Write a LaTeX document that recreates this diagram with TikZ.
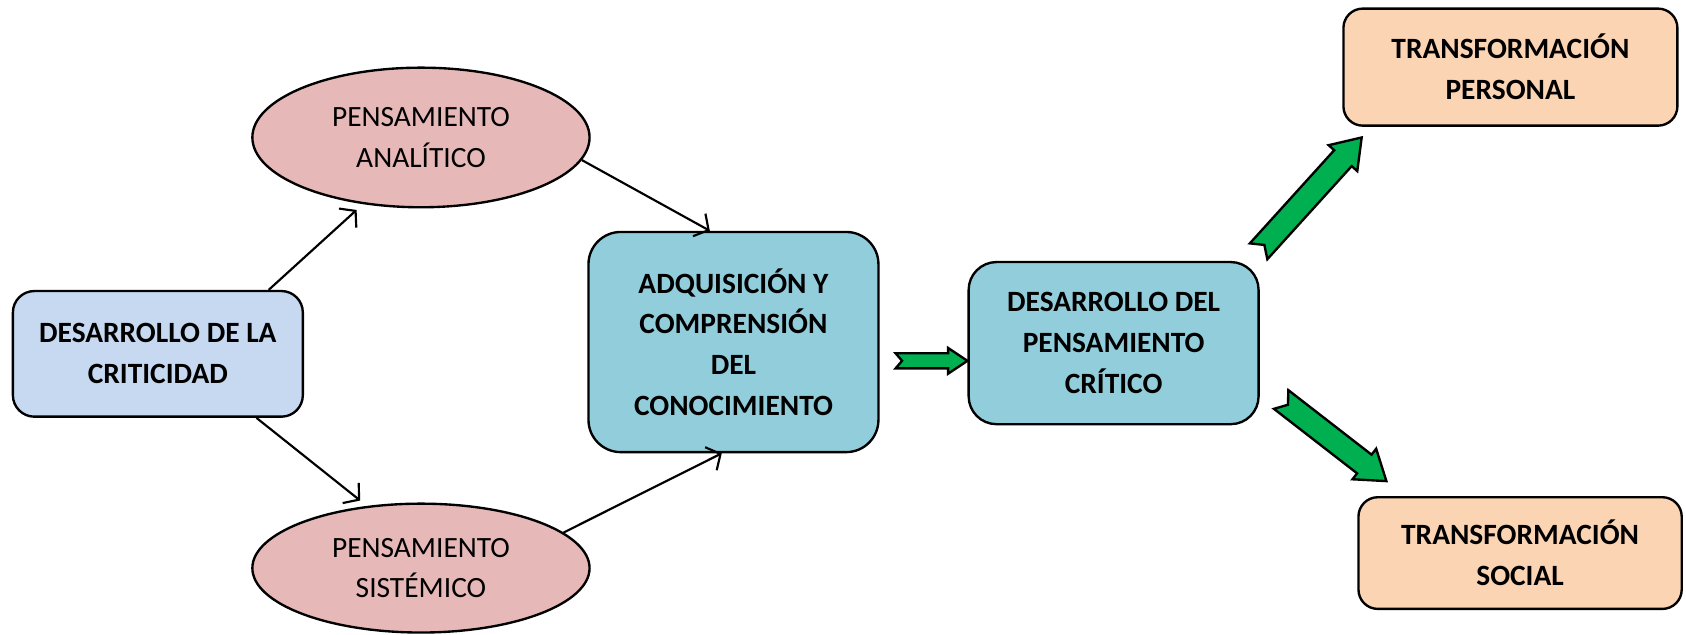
\documentclass[tikz,border=0pt]{standalone}
\usepackage{fontspec}
\setmainfont{Carlito}
\usepackage{tikz}
\usetikzlibrary{shapes.geometric}
\usetikzlibrary{calc}
\usetikzlibrary{arrows.meta}
\definecolor{critblue}{HTML}{C6D9F1}
\definecolor{pensrose}{HTML}{E6B9B8}
\definecolor{conocyan}{HTML}{92CDDC}
\definecolor{transpeach}{HTML}{FBD4B4}
\definecolor{arrowgreen}{HTML}{00B050}
\tikzstyle{box}=[draw, line width=1.1pt, inner sep=0pt, align=center, font=\fontsize{13.7}{19}\selectfont\bfseries]
\tikzstyle{pens}=[draw, line width=1.1pt, ellipse, inner sep=0pt, fill=pensrose, align=center, font=\fontsize{13.7}{19}\selectfont]
\tikzstyle{flecha}=[line width=1pt, -{Straight Barb[length=5pt,width=12pt]}]
\tikzstyle{garrow}=[draw, fill=arrowgreen, line width=1.1pt, line join=miter]
% block arrow with notched tail: from, to, body half, head half, head length, notch
\newcommand{\greenarrow}[6]{%
  \path[garrow] ($(#1)!#3!90:(#2)$) -- ($(#2)!#5!(#1)!#3!-90:(#1)$)
    -- ($(#2)!#5!(#1)!#4!-90:(#1)$) -- (#2) -- ($(#2)!#5!(#1)!#4!90:(#1)$)
    -- ($(#2)!#5!(#1)!#3!90:(#1)$) -- ($(#1)!#3!-90:(#2)$) -- ($(#1)!#6!(#2)$) -- cycle;}
\begin{document}
\begin{tikzpicture}[x=0.5pt, y=-0.5pt]
    \useasboundingbox (0,0) rectangle (1570,590.4);
    \node[box, fill=critblue, rounded corners=10pt, minimum width=135pt, minimum height=58.5pt] (crit) at (147,329.5) {DESARROLLO DE LA\\CRITICIDAD};
    \node[pens, minimum width=157pt, minimum height=65pt] (anal) at (392,128) {PENSAMIENTO\\ANALÍTICO};
    \node[pens, minimum width=157pt, minimum height=60pt] (sist) at (392,529) {PENSAMIENTO\\SISTÉMICO};
    \node[box, fill=conocyan, rounded corners=15pt, minimum width=135pt, minimum height=102.5pt] (adq) at (683,318.5) {ADQUISICIÓN Y\\COMPRENSIÓN\\DEL\\CONOCIMIENTO};
    \node[box, fill=conocyan, rounded corners=13pt, minimum width=135pt, minimum height=75.5pt] (dpc) at (1037,319.5) {DESARROLLO DEL\\PENSAMIENTO\\CRÍTICO};
    \node[box, fill=transpeach, rounded corners=9pt, minimum width=155.5pt, minimum height=54.5pt] (tper) at (1406.5,62.5) {TRANSFORMACIÓN\\PERSONAL};
    \node[box, fill=transpeach, rounded corners=9pt, minimum width=150.5pt, minimum height=52pt] (tsoc) at (1415.5,515) {TRANSFORMACIÓN\\SOCIAL};
    \draw[flecha, shorten >=4pt] (crit.30) -- (anal.229);
    \draw[flecha, shorten >=4pt] (crit.-33) -- (sist.131);
    \draw[flecha] (anal.-8) -- (adq.102);
    \draw[flecha] (sist.14) -- (adq.264);
    \coordinate (g1) at (834,336);
    \coordinate (g2) at (1172,234);
    \coordinate (g3) at (1268,128);
    \coordinate (g4) at (1193,372);
    \coordinate (g5) at (1291,448);
    \greenarrow{g1}{g1 -| dpc.west}{3.5pt}{6pt}{9pt}{3pt}
    \greenarrow{g2}{g3}{5.5pt}{9pt}{13pt}{4pt}
    \greenarrow{g4}{g5}{5.5pt}{9pt}{13pt}{4pt}
\end{tikzpicture}
\end{document}
